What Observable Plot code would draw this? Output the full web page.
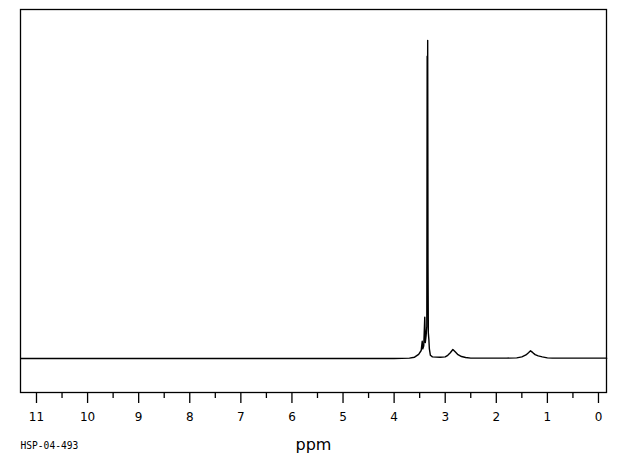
<!DOCTYPE html>
<html>
<head>
<meta charset="utf-8">
<script src="https://cdn.jsdelivr.net/npm/d3@7"></script>
<script src="https://cdn.jsdelivr.net/npm/@observablehq/plot@0.6"></script>
<style>
  html, body { margin: 0; padding: 0; background: #fff; }
</style>
</head>
<body>
<div id="chart"></div>
<script>
// Chemical shift (ppm) and relative intensity
const ppm = [11.31, 4.0, 3.70, 3.60, 3.52, 3.47, 3.45, 3.44, 3.42, 3.40, 3.39, 3.375, 3.36, 3.353, 3.348, 3.343, 3.337, 3.33, 3.32, 3.31, 3.29, 3.25, 3.10, 3.00, 2.95, 2.90, 2.85, 2.80, 2.75, 2.68, 2.60, 2.50, 1.80, 1.60, 1.50, 1.42, 1.37, 1.33, 1.29, 1.24, 1.18, 1.10, 1.00, 0.90, -0.16];
const intensity = [0, 0, 0.1, 0.4, 1.3, 2.5, 5.4, 3.0, 4.0, 13.0, 5.0, 7.0, 10, 95, 60, 100, 30, 8, 6.0, 3.0, 1.0, 0.5, 0.4, 0.5, 1.0, 1.8, 2.8, 2.0, 1.2, 0.6, 0.3, 0.1, 0.1, 0.2, 0.5, 1.1, 1.8, 2.4, 1.9, 1.2, 0.8, 0.5, 0.2, 0.1, 0.1];
const majorTicks = [0, 1, 2, 3, 4, 5, 6, 7, 8, 9, 10, 11];
const minorTicks = [0.5, 1.5, 2.5, 3.5, 4.5, 5.5, 6.5, 7.5, 8.5, 9.5, 10.5];
const axisLabel = "ppm";
const caption = ["HSP-04-493"];

const spectrum = ppm.map((p, i) => ({ppm: p, intensity: intensity[i]}));

const chart = Plot.plot({
  width: 620,
  height: 455,
  marginLeft: 20,
  marginRight: 14,
  marginTop: 9,
  marginBottom: 63,
  style: {fontFamily: "DejaVu Sans", fontSize: "12px", color: "black", background: "white"},
  x: {domain: [11.313, -0.157]},
  y: {domain: [-10.7, 109.7], axis: null},
  marks: [
    Plot.frame({stroke: "black", strokeWidth: 1.3}),
    Plot.axisX(minorTicks, {tickSize: 6, text: null, stroke: "black", strokeWidth: 1.3, label: null}),
    Plot.axisX(majorTicks, {
      tickSize: 11, tickPadding: 9, stroke: "black", strokeWidth: 1.3,
      fontSize: 12, tickFormat: d => String(d),
      label: axisLabel, labelAnchor: "center", labelArrow: "none", labelOffset: 57
    }),
    Plot.line(spectrum, {x: "ppm", y: "intensity", stroke: "black", strokeWidth: 1.4, curve: "linear"}),
    Plot.text(caption, {frameAnchor: "bottom-left", text: d => d, textAnchor: "start", dy: 56, fontFamily: "DejaVu Sans Mono", fontSize: 9.6, fill: "black"})
  ]
});
document.getElementById("chart").appendChild(chart);
// enlarge axis title
chart.querySelectorAll("g[aria-label='x-axis label'] text").forEach(t => t.setAttribute("font-size", "16"));
</script>
</body>
</html>
